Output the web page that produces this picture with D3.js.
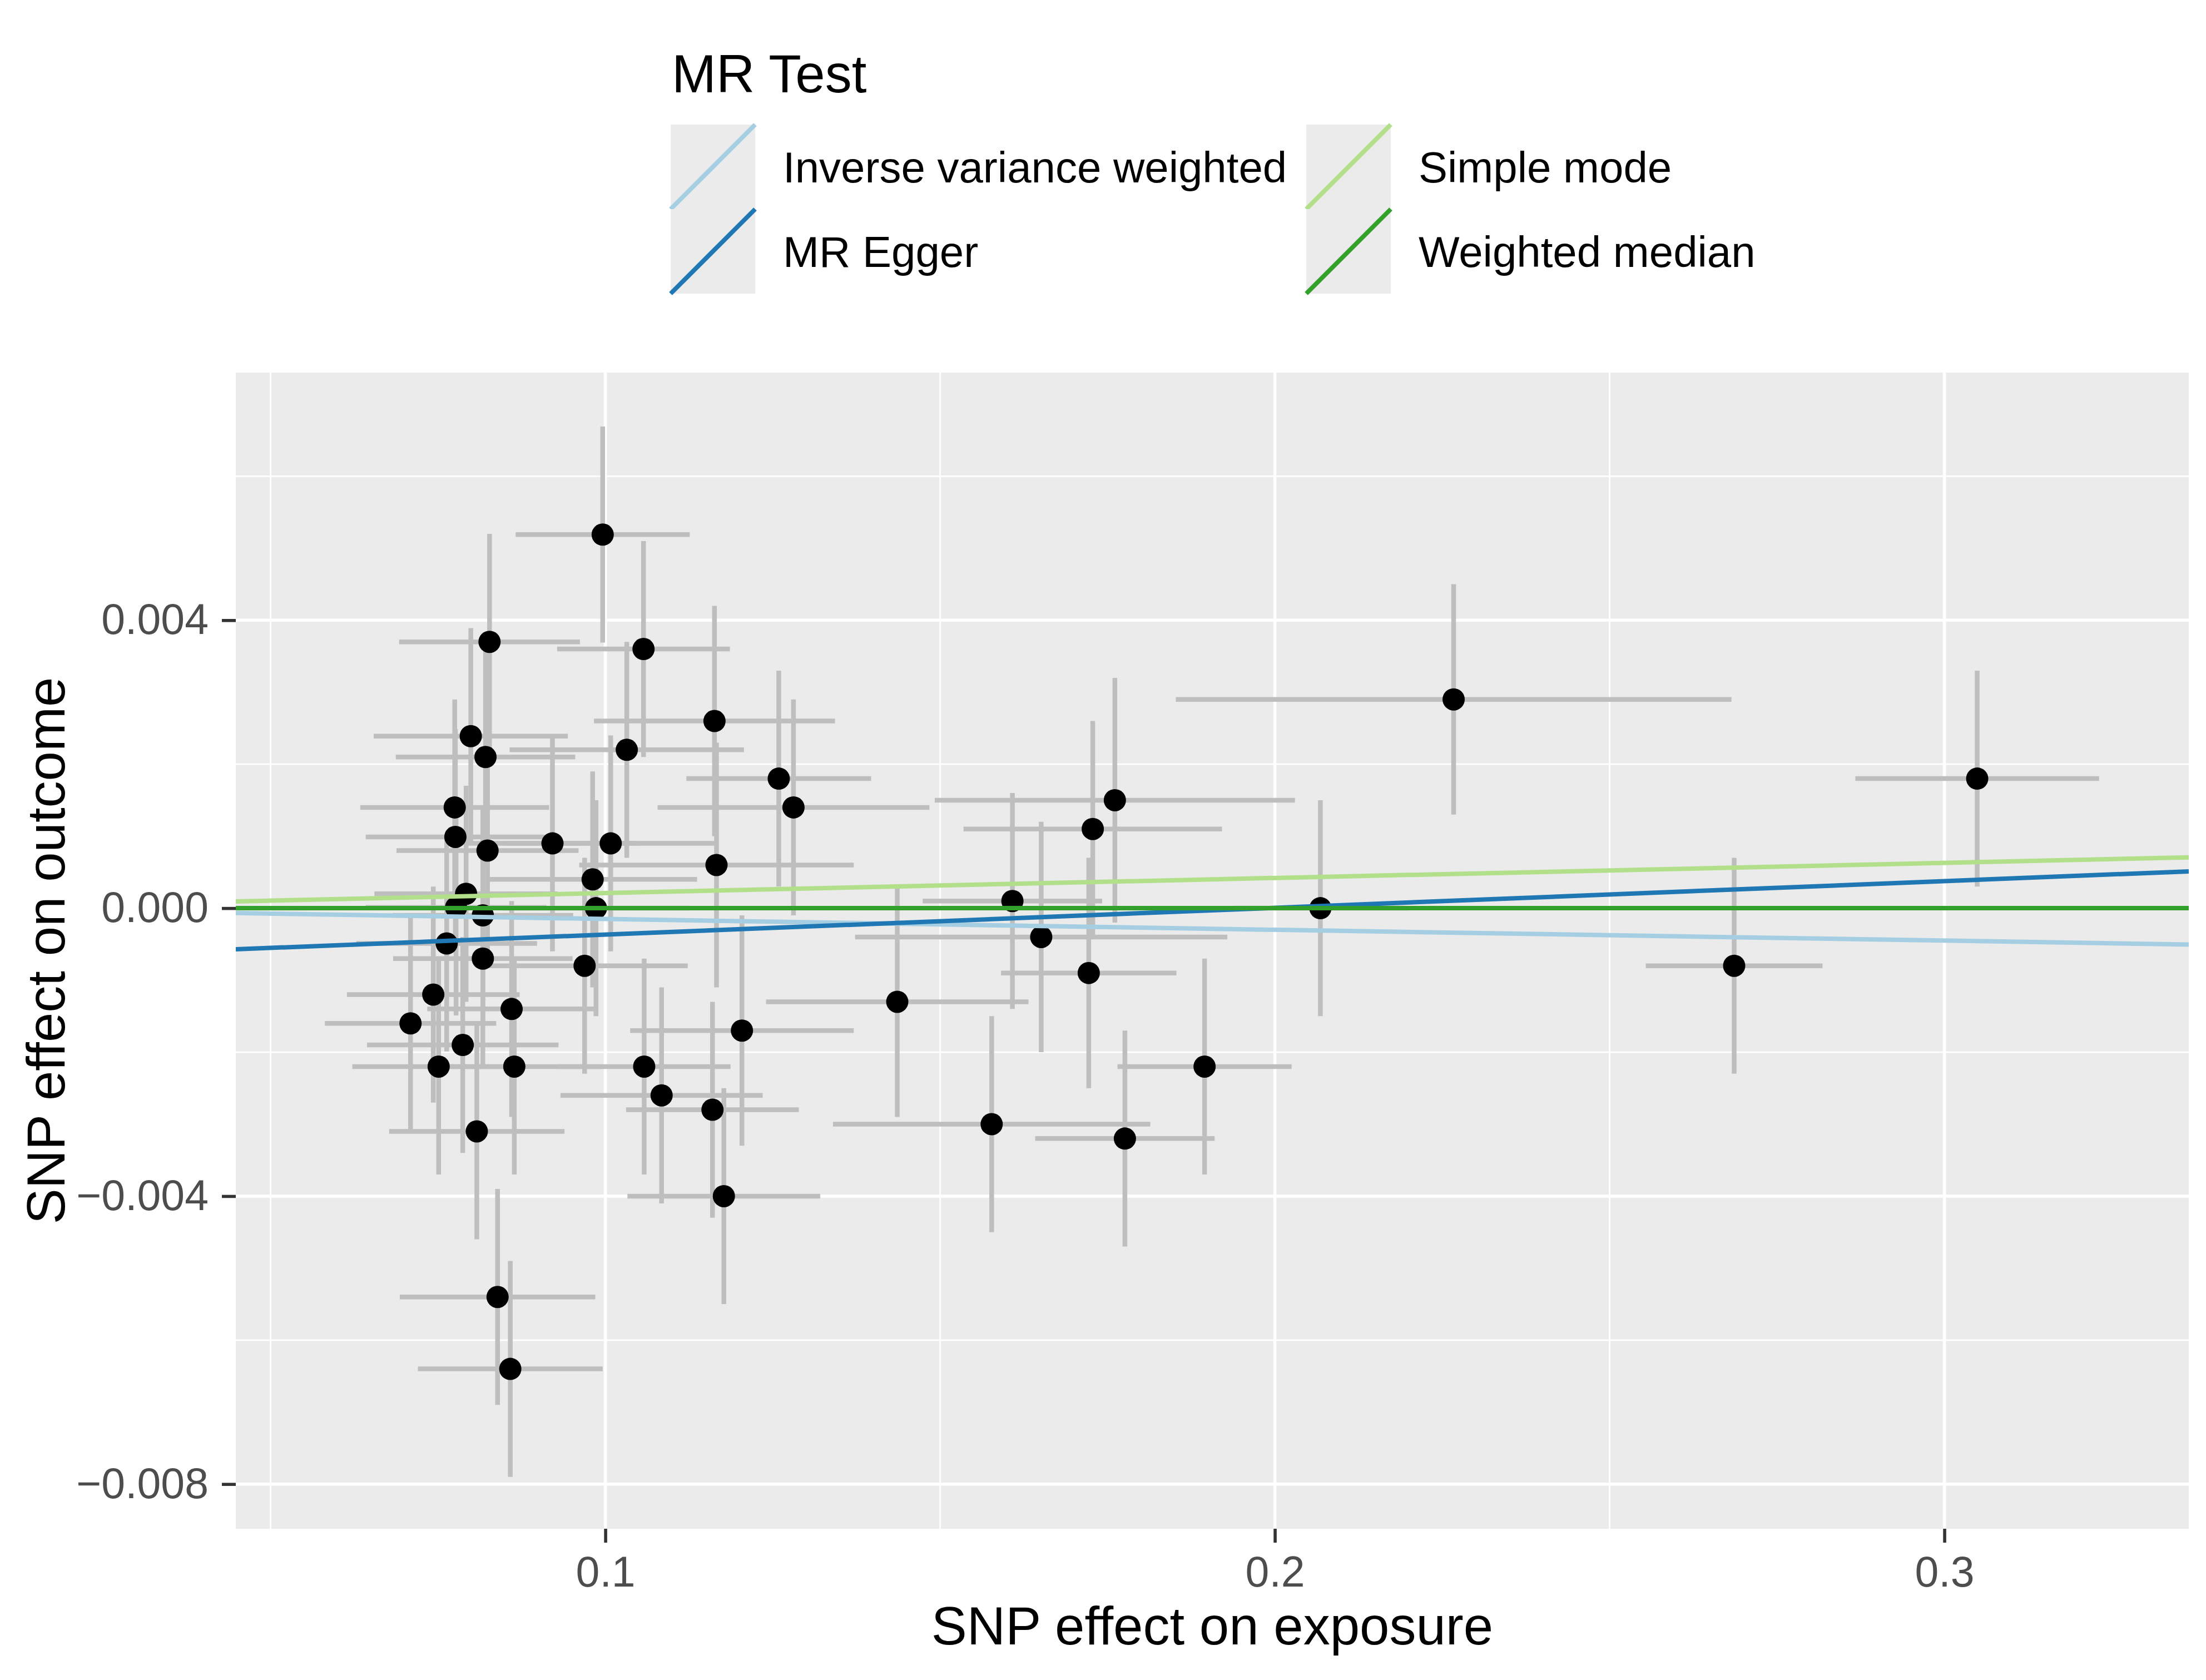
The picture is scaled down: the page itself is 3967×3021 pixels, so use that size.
<!DOCTYPE html>
<html>
<head>
<meta charset="utf-8">
<script src="https://cdn.jsdelivr.net/npm/d3@7"></script>
<style>
    body{margin:0;background:#fff;}
    text{font-family:"Liberation Sans", Arial, sans-serif;}
</style>
</head>
<body>
<div class="chart"></div>
<script>
"use strict";

// SNP effects (exposure beta, outcome beta, and their SEs)
const betaExposure = [0.0996, 0.0827, 0.1057, 0.0799, 0.0821, 0.1032, 0.1163, 0.1259, 0.1281, 0.0775,
                      0.0776, 0.0824, 0.0921, 0.1008, 0.1166, 0.0981, 0.0792, 0.0777, 0.0986, 0.0817,
                      0.0763, 0.0817, 0.0969, 0.0743, 0.0860, 0.0709, 0.0787, 0.0751, 0.0864, 0.1058,
                      0.0808, 0.1084, 0.1160, 0.1204, 0.1177, 0.0839, 0.0858, 0.1761, 0.1728, 0.1608,
                      0.1651, 0.1722, 0.1436, 0.1577, 0.1776, 0.1895, 0.2068, 0.2267, 0.2686, 0.3049];
const betaOutcome  = [0.00519, 0.00370, 0.00360, 0.00239, 0.00210, 0.00220, 0.00260, 0.00180, 0.00140, 0.00140,
                      0.00099, 0.00080, 0.00090, 0.00090, 0.00060, 0.00040, 0.00020, 0.00001, 0.00000, -0.00010,
                      -0.00049, -0.00070, -0.00080, -0.00120, -0.00140, -0.00160, -0.00190, -0.00220, -0.00220, -0.00220,
                      -0.00310, -0.00260, -0.00280, -0.00170, -0.00400, -0.00540, -0.00640, 0.00150, 0.00110, 0.00010,
                      -0.00040, -0.00090, -0.00130, -0.00300, -0.00320, -0.00220, 0.00000, 0.00290, -0.00080, 0.00180];
const seExposure   = [0.0130, 0.0135, 0.0129, 0.0145, 0.0134, 0.0175, 0.0180, 0.0138, 0.0203, 0.0141,
                      0.0134, 0.0136, 0.0130, 0.0160, 0.0205, 0.0156, 0.0137, 0.0135, 0.0140, 0.0135,
                      0.0135, 0.0134, 0.0154, 0.0129, 0.0126, 0.0128, 0.0143, 0.0129, 0.0130, 0.0129,
                      0.0131, 0.0151, 0.0129, 0.0167, 0.0144, 0.0146, 0.0138, 0.0269, 0.0193, 0.0134,
                      0.0278, 0.0131, 0.0196, 0.0237, 0.0134, 0.0130, 0.0130, 0.0415, 0.0132, 0.0182];
const seOutcome    = [0.0015, 0.0015, 0.0015, 0.0015, 0.0015, 0.0015, 0.0016, 0.0015, 0.0015, 0.0015,
                      0.0015, 0.0015, 0.0015, 0.0015, 0.0017, 0.0015, 0.0015, 0.0015, 0.0015, 0.0015,
                      0.0015, 0.0015, 0.0015, 0.0015, 0.0015, 0.0015, 0.0015, 0.0015, 0.0015, 0.0015,
                      0.0015, 0.0015, 0.0015, 0.0016, 0.0015, 0.0015, 0.0015, 0.0017, 0.0015, 0.0015,
                      0.0016, 0.0016, 0.0016, 0.0015, 0.0015, 0.0015, 0.0015, 0.0016, 0.0015, 0.0015];

// MR fits drawn as ablines
const methods    = ["Inverse variance weighted", "MR Egger", "Simple mode", "Weighted median"];
const intercepts = [0, -0.000737, 0, 0];
const slopes     = [-0.0015, 0.00371, 0.0021, 0];
const colours    = ["#a6cee3", "#1f78b4", "#b2df8a", "#33a02c"];

// axis ticks
const xTicks = [0.1, 0.2, 0.3];
const xTickLabels = ["0.1", "0.2", "0.3"];
const xMinor = [0.05, 0.15, 0.25];
const yTicks = [-0.008, -0.004, 0, 0.004];
const yTickLabels = ["\u22120.008", "\u22120.004", "0.000", "0.004"];
const yMinor = [-0.006, -0.002, 0.002, 0.006];

const W = 3967, H = 3021;
const panel = {left: 424, top: 670, right: 3936, bottom: 2749};

const svg = d3.select(".chart").append("svg")
    .attr("width", W)
    .attr("height", H);

svg.append("rect").attr("width", W).attr("height", H).attr("fill", "#fff");

let x = d3.scaleLinear().domain([0.0448, 0.3365]).range([panel.left, panel.right]);
let y = d3.scaleLinear().domain([-0.00862, 0.00744]).range([panel.bottom, panel.top]);

svg.append("defs").append("clipPath").attr("id", "panel-clip")
    .append("rect")
    .attr("x", panel.left).attr("y", panel.top)
    .attr("width", panel.right - panel.left).attr("height", panel.bottom - panel.top);

// panel background + grid
svg.append("rect")
    .attr("x", panel.left).attr("y", panel.top)
    .attr("width", panel.right - panel.left).attr("height", panel.bottom - panel.top)
    .attr("fill", "#ebebeb");

let grid = svg.append("g").attr("class", "grid").attr("stroke", "#fff");
grid.selectAll(".xminor").data(xMinor).enter().append("line")
    .attr("x1", d => x(d)).attr("x2", d => x(d))
    .attr("y1", panel.top).attr("y2", panel.bottom)
    .attr("stroke-width", 2.8);
grid.selectAll(".yminor").data(yMinor).enter().append("line")
    .attr("y1", d => y(d)).attr("y2", d => y(d))
    .attr("x1", panel.left).attr("x2", panel.right)
    .attr("stroke-width", 2.8);
grid.selectAll(".xmajor").data(xTicks).enter().append("line")
    .attr("x1", d => x(d)).attr("x2", d => x(d))
    .attr("y1", panel.top).attr("y2", panel.bottom)
    .attr("stroke-width", 5.6);
grid.selectAll(".ymajor").data(yTicks).enter().append("line")
    .attr("y1", d => y(d)).attr("y2", d => y(d))
    .attr("x1", panel.left).attr("x2", panel.right)
    .attr("stroke-width", 5.6);

// data layer
let idx = d3.range(betaExposure.length);
let plot = svg.append("g").attr("clip-path", "url(#panel-clip)");

plot.append("g").selectAll("line").data(idx).enter().append("line")
    .attr("x1", i => x(betaExposure[i])).attr("x2", i => x(betaExposure[i]))
    .attr("y1", i => y(betaOutcome[i] - seOutcome[i]))
    .attr("y2", i => y(betaOutcome[i] + seOutcome[i]))
    .attr("stroke", "#bebebe").attr("stroke-width", 8.5);

plot.append("g").selectAll("line").data(idx).enter().append("line")
    .attr("y1", i => y(betaOutcome[i])).attr("y2", i => y(betaOutcome[i]))
    .attr("x1", i => x(betaExposure[i] - seExposure[i]))
    .attr("x2", i => x(betaExposure[i] + seExposure[i]))
    .attr("stroke", "#bebebe").attr("stroke-width", 8.5);

plot.append("g").selectAll("circle").data(idx).enter().append("circle")
    .attr("cx", i => x(betaExposure[i]))
    .attr("cy", i => y(betaOutcome[i]))
    .attr("r", 20)
    .attr("fill", "#000");

let xd = x.domain();
plot.append("g").selectAll("line").data(methods).enter().append("line")
    .attr("x1", x(xd[0])).attr("x2", x(xd[1]))
    .attr("y1", (d, i) => y(intercepts[i] + slopes[i] * xd[0]))
    .attr("y2", (d, i) => y(intercepts[i] + slopes[i] * xd[1]))
    .attr("stroke", (d, i) => colours[i])
    .attr("stroke-width", 8);

// axes
let xAxis = d3.axisBottom(x).tickValues(xTicks)
    .tickFormat((d, i) => xTickLabels[i]).tickSize(25).tickPadding(24);
let gx = svg.append("g")
    .attr("transform", "translate(0," + panel.bottom + ")")
    .call(xAxis);

let yAxis = d3.axisLeft(y).tickValues(yTicks)
    .tickFormat((d, i) => yTickLabels[i]).tickSize(25).tickPadding(24);
let gy = svg.append("g")
    .attr("transform", "translate(" + panel.left + ",0)")
    .call(yAxis);

[gx, gy].forEach(g => {
    g.select(".domain").remove();
    g.selectAll(".tick line").attr("stroke", "#333333").attr("stroke-width", 5.6);
    g.selectAll(".tick text")
        .attr("fill", "#4d4d4d")
        .style("font-size", "77px")
        .style("font-family", "'Liberation Sans', Arial, sans-serif");
});

svg.append("text")
    .attr("x", (panel.left + panel.right) / 2)
    .attr("y", 2957)
    .attr("text-anchor", "middle")
    .style("font-size", "96px")
    .text("SNP effect on exposure");

svg.append("text")
    .attr("transform", "translate(116," + ((panel.top + panel.bottom) / 2) + ") rotate(-90)")
    .attr("text-anchor", "middle")
    .style("font-size", "96px")
    .text("SNP effect on outcome");

// legend
let legend = svg.append("g").attr("class", "legend");
legend.append("text")
    .attr("x", 1208).attr("y", 166)
    .style("font-size", "96px")
    .text("MR Test");

const keySize = 152;
const keyCols = [1206, 2349];
const keyRows = [224, 376];
const labelOffset = 202;

let items = legend.selectAll(".item").data(methods).enter().append("g")
    .attr("class", "item")
    .attr("transform", (d, i) => "translate(" + keyCols[Math.floor(i / 2)] + "," + keyRows[i % 2] + ")");

items.append("rect")
    .attr("width", keySize).attr("height", keySize)
    .attr("fill", "#ebebeb");

items.append("line")
    .attr("x1", 0).attr("y1", keySize)
    .attr("x2", keySize).attr("y2", 0)
    .attr("stroke", (d, i) => colours[i])
    .attr("stroke-width", 8);

items.append("text")
    .attr("x", labelOffset)
    .attr("y", keySize / 2 + 28)
    .style("font-size", "78px")
    .text(d => d);
</script>
</body>
</html>
